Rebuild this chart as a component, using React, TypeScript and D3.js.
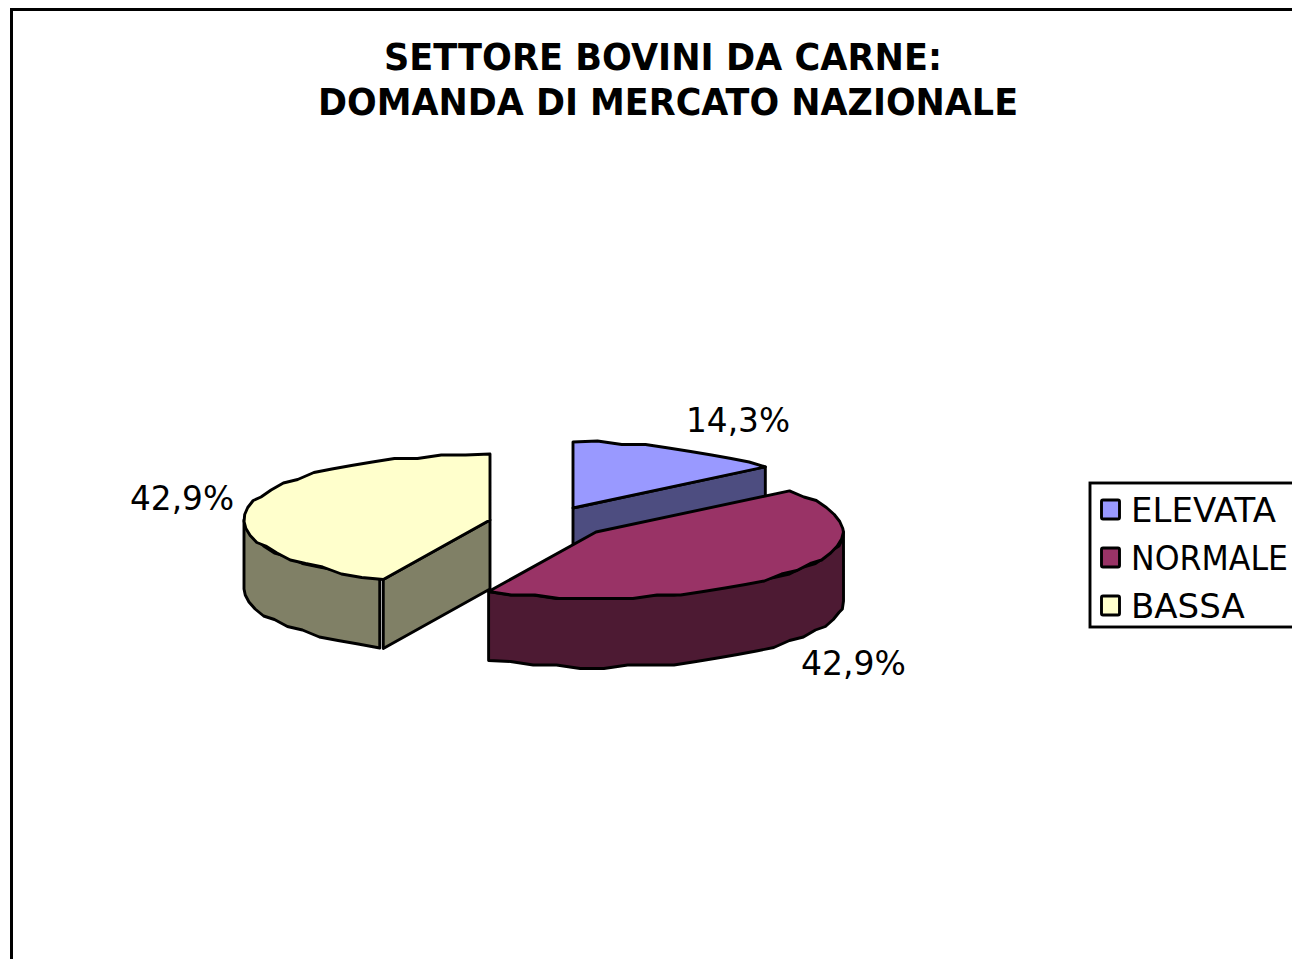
import React from "react";
import * as d3 from "d3";

const categories = ["ELEVATA", "NORMALE", "BASSA"];
const values = [14.3, 42.9, 42.9];
const labels = ["14,3%", "42,9%", "42,9%"];
const topColors = ["#9999FF", "#993366", "#FFFFCC"];
const sideColors = ["#4D4D80", "#4D1A33", "#808066"];
const titleLines = ["SETTORE BOVINI DA CARNE:", "DOMANDA DI MERCATO NAZIONALE"];
const legendSqueeze = [1, 0.93, 1];

const W = 1292, H = 959;
const rx = 246, ry = 66, depth = 69;
// exploded slice apex for each category
const centers = [[573, 508], [596, 532], [490, 520]];
const radiiX = [rx, rx + 1.5, rx];
const labelPos = [[686, 432, 104], [801, 675, 105], [130, 510, 104]];
const font = "'DejaVu Sans', Verdana, sans-serif";

const arcs = d3.pie<number>().sort(null)(values);
const rimStep = Math.PI / 32;

function rim(i: number, a0: number, a1: number, dy = 0): [number, number][] {
  const c = centers[i];
  const n = Math.max(1, Math.round((a1 - a0) / rimStep));
  return d3.range(n + 1).map((k) => {
    const a = a0 + ((a1 - a0) * k) / n;
    const x = c[0] + radiiX[i] * Math.sin(a);
    const y = c[1] - ry * Math.cos(a) + dy;
    return [x, k === 0 || k === n ? y : Math.round(y / 3.5) * 3.5];
  });
}
const poly = d3.line().curve(d3.curveLinear);
const closed = (p: [number, number][]) => poly(p) + "Z";
const stroke = { stroke: "#000", strokeWidth: 2.9, strokeLinejoin: "round" as const };

function Slice({ i }: { i: number }) {
  const c = centers[i];
  const { startAngle: s, endAngle: e } = arcs[i];
  const apex: [number, number] = [c[0], c[1]];
  const top = closed([apex, ...rim(i, s, e)]);
  const lo = Math.max(s, Math.PI / 2), hi = Math.min(e, (3 * Math.PI) / 2);
  const parts: React.ReactNode[] = [];
  if (i === 0) {
    const r = rim(i, e, e)[0];
    parts.push(
      <path key="cut" d={closed([apex, r, [r[0], r[1] + depth], [apex[0], apex[1] + depth]])} fill={sideColors[i]} {...stroke} />
    );
  }
  if (i === 2) {
    const r = rim(i, s, s)[0];
    parts.push(
      <path key="cut" d={closed([apex, r, [r[0], r[1] + depth], [apex[0], apex[1] + depth]])} fill={sideColors[i]} {...stroke} />
    );
  }
  if (hi > lo) {
    const gap = i === 2 ? 0.016 : 0;
    const a = rim(i, lo + gap, hi);
    const b = rim(i, lo + gap, hi, depth).reverse();
    parts.push(<path key="side" d={closed([...a, ...b])} fill={sideColors[i]} {...stroke} />);
  }
  parts.push(<path key="top" d={top} fill={topColors[i]} {...stroke} />);
  return <g>{parts}</g>;
}

export default function App() {
  const legendY = d3.scalePoint<string>().domain(categories).range([510, 606]);
  return (
    <svg
      width={W}
      height={H}
      viewBox={`0 0 ${W} ${H}`}
      style={{ position: "absolute", left: 0, top: 0, background: "#fff" }}
      fontFamily={font}
    >
      <rect x={11.5} y={9.5} width={W + 40} height={H + 40} fill="#fff" stroke="#000" strokeWidth={3} />
      <g fontWeight="bold" fontSize={37} textAnchor="middle" fill="#000">
        <text x={663} y={70} textLength={558} lengthAdjust="spacingAndGlyphs">{titleLines[0]}</text>
        <text x={668} y={115} textLength={700} lengthAdjust="spacingAndGlyphs">{titleLines[1]}</text>
      </g>
      {[0, 2, 1].map((i) => <Slice key={i} i={i} />)}
      <g fontSize={34} fill="#000">
        {labels.map((t, i) => (
          <text key={i} x={labelPos[i][0]} y={labelPos[i][1]} textLength={labelPos[i][2]} lengthAdjust="spacingAndGlyphs">{t}</text>
        ))}
      </g>
      <rect x={1090} y={483} width={W} height={144} fill="#fff" stroke="#000" strokeWidth={2.9} />
      {categories.map((c, i) => {
        const y = legendY(c)!;
        return (
          <g key={c}>
            <rect x={1101.5} y={y - 10} width={18} height={19} rx={1.5} fill={topColors[i]} stroke="#000" strokeWidth={2.9} />
            <text transform={`translate(1131,${y + 12}) scale(${legendSqueeze[i]},1)`} fontSize={34} fill="#000">{c}</text>
          </g>
        );
      })}
    </svg>
  );
}
